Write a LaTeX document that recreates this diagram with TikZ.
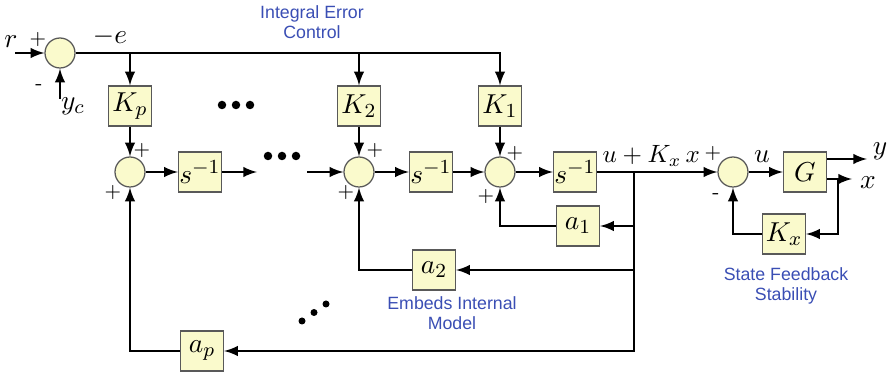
\documentclass[tikz,border=0pt]{standalone}
\usepackage{amsmath, amssymb}
\usepackage{fontspec}
\usepackage{xcolor}
\usepackage{tikz}
\usetikzlibrary{calc, positioning}
\newfontfamily\notefont{Liberation Sans}
\definecolor{boxfill}{RGB}{250,250,204}
\definecolor{noteblue}{RGB}{58,78,180}

\begin{document}
\begin{tikzpicture}[>=latex, x=4pt, y=4pt, line width=0.9pt,
    font=\fontsize{11}{13}\selectfont,
    block/.style={draw=black!65, line width=0.5pt, fill=boxfill,
        minimum width=17.2pt, minimum height=16pt, inner sep=0pt},
    sum/.style={circle, draw=black!65, line width=0.5pt, fill=boxfill,
        minimum size=12pt, inner sep=0pt},
    sign/.style={font=\footnotesize, inner sep=0pt},
    note/.style={text=noteblue, font=\notefont\fontsize{7.1}{8}\selectfont, align=center}]
    \useasboundingbox (0,0) rectangle (89.2,37.5);

    % 1. Các khối và nút tổng
    \node[sum] (s0) at (6.0,32.2) {};
    \coordinate (rin) at (1.5,32.2);
    \coordinate (ycin) at (6.0,27.6);
    \node[block] (kp) at (13.0,26.9) {$K_p$};
    \node[block] (k2) at (35.9,26.9) {$K_2$};
    \node[block] (k1) at (50.0,26.9) {$K_1$};
    \node[sum] (s1) at (13.0,20.3) {};
    \node[block] (i1) at (20.0,20.3) {$s^{-1}$};
    \coordinate (gapl) at (25.7,20.3);
    \coordinate (gapr) at (30.7,20.3);
    \node[sum] (s2) at (35.9,20.3) {};
    \node[block] (i2) at (43.1,20.3) {$s^{-1}$};
    \node[sum] (s3) at (50.0,20.3) {};
    \node[block] (i3) at (57.5,20.3) {$s^{-1}$};
    \coordinate (br) at (63.4,20.3);
    \node[sum] (s4) at (73.3,20.3) {};
    \node[block] (g) at (80.5,20.3) {$G$};
    \coordinate (yout) at (86.7,21.6);
    \coordinate (xout) at (85.2,19.6);
    \coordinate (xbr) at (83.8,19.6);
    \node[block] (kx) at (78.4,14.1) {$K_x$};
    \node[block] (a1) at (57.8,14.9) {$a_1$};
    \node[block] (a2) at (43.4,10.5) {$a_2$};
    \node[block] (ap) at (20.2,2.4) {$a_p$};

    % 2. Đường tín hiệu
    \draw[->] (rin) -- (s0.west);
    \draw[->] (ycin) -- (s0.south);
    \draw[->] (s0.east) -| (k1.north);
    \draw[->] (kp.north |- s0.east) -- (kp.north);
    \draw[->] (k2.north |- s0.east) -- (k2.north);
    \draw[->] (kp) -- (s1);
    \draw[->] (k2) -- (s2);
    \draw[->] (k1) -- (s3);
    \draw[->] (s1) -- (i1);
    \draw[->] (i1) -- (gapl);
    \draw[->] (gapr) -- (s2);
    \draw[->] (s2) -- (i2);
    \draw[->] (i2) -- (s3);
    \draw[->] (s3) -- (i3);
    \draw[->] (i3) -- (s4);
    \draw[->] (s4) -- (g);
    \draw[->] (g.east |- yout) -- (yout);
    \draw[->] (g.east |- xout) -- (xout);
    \draw[->] (xbr) |- (kx.east);
    \draw[->] (kx.west) -| (s4.south);

    % 3. Các vòng hồi tiếp
    \draw[->] (br) |- (ap.east);
    \draw[->] (br |- a1) -- (a1.east);
    \draw[->] (br |- a2) -- (a2.east);
    \draw[->] (a1.west) -| (s3.south);
    \draw[->] (a2.west) -| (s2.south);
    \draw[->] (ap.west) -| (s1.south);

    % 4. Dấu ba chấm
    \foreach \dx in {0,1.4,2.8} {
        \fill (22.2+\dx,27.0) circle (1.7pt);
        \fill (26.8+\dx,21.9) circle (1.7pt);
    }
    \foreach \k in {0,1,2}
        \fill (30.2+1.2*\k,5.4+0.85*\k) circle (1.4pt);

    % 5. Nhãn
    \node (lr) at (1.1,33.3) {$r$};
    \node[sign] (p0) at (3.8,33.5) {+};
    \node[sign] (m0) at (3.9,28.75) {-};
    \node (lyc) at (7.3,26.9) {$y_c$};
    \node (le) at (11.0,33.8) {$-e$};
    \node[sign] (p1a) at (14.2,22.4) {+};
    \node[sign] (p1b) at (11.3,18.2) {+};
    \node[sign] (p2a) at (37.5,22.4) {+};
    \node[sign] (p2b) at (34.6,18.2) {+};
    \node[sign] (p3a) at (51.5,22.1) {+};
    \node[sign] (p3b) at (48.6,17.8) {+};
    \node[anchor=base east, inner sep=0pt, font=\normalsize] (lukx) at (70.1,21.2) {$u + K_x\, x$};
    \node[sign] (p4) at (71.3,22.1) {+};
    \node[sign] (m4) at (71.6,17.9) {-};
    \node[anchor=base, inner sep=0pt] (lu) at (76.2,21.2) {$u$};
    \node (ly) at (88.0,22.4) {$y$};
    \node (lx) at (86.8,19.2) {$x$};
    \node[note] (nint) at (31.2,35.3) {Integral Error\\Control};
    \node[note] (nemb) at (45.2,6.15) {Embeds Internal\\Model};
    \node[note] (nsta) at (78.6,8.95) {State Feedback\\Stability};
\end{tikzpicture}
\end{document}
